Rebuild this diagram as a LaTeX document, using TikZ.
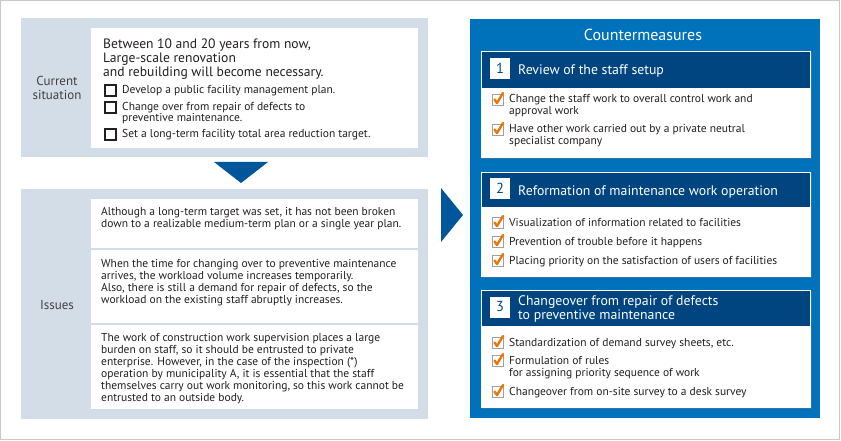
\documentclass[tikz,border=0pt]{standalone}
\usepackage{fontspec}
\setmainfont{PT Sans}
\usetikzlibrary{positioning,calc,shadows}
\definecolor{panelgray}{RGB}{211,221,232}
\definecolor{cmblue}{RGB}{0,114,188}
\definecolor{hdblue}{RGB}{0,69,127}
\definecolor{arrblue}{RGB}{0,86,154}
\definecolor{chkorange}{RGB}{238,118,0}
\definecolor{framegray}{RGB}{200,200,200}
\definecolor{txt}{RGB}{35,31,32}

\tikzset{
  panel/.style={fill=panelgray,anchor=north west,inner sep=0},
  wbox/.style={fill=white,anchor=north west,inner sep=0},
  lbl/.style={align=center,text=txt!85,font=\fontsize{13}{14}\selectfont},
  % multi-line nodes sit on the baseline of their LAST line
  body/.style={anchor=base west,inner sep=0,align=left,text=txt,
               font=\fontsize{11.5}{12}\selectfont},
  lead/.style={body,font=\fontsize{13.6}{14}\selectfont},
  sqbox/.style={draw=txt,line width=1.1pt,minimum size=11pt,inner sep=0},
  secbox/.style={fill=white,anchor=north west,inner sep=0,
                 drop shadow={shadow xshift=1pt,shadow yshift=-1pt,opacity=.35}},
  hdr/.style={fill=hdblue,anchor=north west,inner sep=0},
  hdtxt/.style={anchor=base west,inner sep=0,align=left,text=white,
                font=\fontsize{13.8}{14}\selectfont},
  numbox/.style={fill=white,text=hdblue,minimum width=20pt,minimum height=21pt,
                 inner sep=0,font=\fontsize{14.5}{14}\selectfont},
  tick/.pic={
    \draw[gray!75,fill=white,line width=.8pt] (-5.5,-5.5) rectangle (5.5,5.5);
    \draw[chkorange,line width=2.4pt,line cap=round,line join=round]
      (-3,0) -- (-0.5,3.5) -- (5.5,-6.5);
  }
}

\begin{document}
\begin{tikzpicture}[x=1pt,y=-1pt]
\useasboundingbox (0,0) rectangle (841,441);
\draw[framegray] (0.5,0.5) rectangle (839.5,439.5);

% ---------------- current situation ----------------
\node[panel,minimum width=407pt,minimum height=139pt] (cur) at (21,18) {};
\node[wbox,minimum width=327pt,minimum height=120pt] (curw) at (91,28) {};
\node[lbl] (curlbl) at (57,88) {Current\\situation};
\node[lead] (curlead) at (103,77)
  {Between 10 and 20 years from now,\\
   Large-scale renovation\\
   and rebuilding will become necessary.};
% \y = first baseline, \k = extra lines
\foreach \n/\y/\k/\t in {1/94/0/{Develop a public facility management plan.},
                         2/111/1/{Change over from repair of defects to\\preventive maintenance.},
                         3/138/0/{Set a long-term facility total area reduction target.}}{
  \node[sqbox] (sq\n) at (110.5,\y-3.5) {};
  \node[body,font=\fontsize{11.5}{11}\selectfont] (cs\n) at (122,\y+11*\k) {\t};
}

% arrow down
\fill[arrblue] (214,162) -- (268,162) -- (241,183) -- cycle;

% ---------------- issues ----------------
\node[panel,minimum width=407pt,minimum height=230pt] (iss) at (21,189) {};
\node[lbl] (isslbl) at (57,305) {Issues};
\node[wbox,minimum width=327pt,minimum height=49pt] (iss1) at (91,199) {};
\node[wbox,minimum width=327pt,minimum height=73pt] (iss2) at (91,250) {};
\node[wbox,minimum width=327pt,minimum height=84pt] (iss3) at (91,325) {};
\node[body] (isst1) at (101,227)
  {Although a long-term target was set, it has not been broken\\
   down to a realizable medium-term plan or a single year plan.};
\node[body] (isst2) at (101,303)
  {When the time for changing over to preventive maintenance\\
   arrives, the workload volume increases temporarily.\\
   Also, there is still a demand for repair of defects, so the\\
   workload on the existing staff abruptly increases.};
\node[body] (isst3) at (101,401)
  {The work of construction work supervision places a large\\
   burden on staff, so it should be entrusted to private\\
   enterprise. However, in the case of the inspection (*)\\
   operation by municipality A, it is essential that the staff\\
   themselves carry out work monitoring, so this work cannot be\\
   entrusted to an outside body.};

% arrow right
\fill[arrblue] (441,188) -- (463,215) -- (441,242) -- cycle;

% ---------------- countermeasures ----------------
\node[fill=cmblue,anchor=north west,inner sep=0,minimum width=350pt,
      minimum height=399pt] (cm) at (470,19) {};
\node[text=white,font=\fontsize{16}{16}\selectfont,anchor=base] (cmt) at (643,41)
  {Countermeasures};

% section 1
\node[secbox,minimum width=330pt,minimum height=107pt] (s1) at (481,51) {};
\node[hdr,minimum width=328pt,minimum height=36pt] (h1) at (482,52) {};
\node[numbox] (n1) at (500,68.5) {1};
\node[hdtxt] (ht1) at (518,75) {Review of the staff setup};
\foreach \n/\y/\k/\t in {1/103/1/{Change the staff work to overall control work and\\approval work},
                         2/133/1/{Have other work carried out by a private neutral\\specialist company}}{
  \pic at (497.5,\y-3.5) {tick};
  \node[body] (a\n) at (509,\y+12*\k) {\t};
}

% section 2
\node[secbox,minimum width=330pt,minimum height=105pt] (s2) at (481,172) {};
\node[hdr,minimum width=328pt,minimum height=34pt] (h2) at (482,173) {};
\node[numbox] (n2) at (500,188.5) {2};
\node[hdtxt] (ht2) at (518,195) {Reformation of maintenance work operation};
\foreach \n/\y/\t in {1/226/{Visualization of information related to facilities},
                      2/245/{Prevention of trouble before it happens},
                      3/264/{Placing priority on the satisfaction of users of facilities}}{
  \pic at (497.5,\y-3.5) {tick};
  \node[body] (b\n) at (509,\y) {\t};
}

% section 3
\node[secbox,minimum width=330pt,minimum height=118pt] (s3) at (481,290) {};
\node[hdr,minimum width=328pt,minimum height=35pt] (h3) at (482,291) {};
\node[numbox] (n3) at (500,307) {3};
\node[hdtxt] (ht3) at (518,319)
  {Changeover from repair of defects\\to preventive maintenance};
\foreach \n/\y/\k/\t in {1/346/0/{Standardization of demand survey sheets, etc.},
                         2/364/1/{Formulation of rules\\for assigning priority sequence of work},
                         3/395/0/{Changeover from on-site survey to a desk survey}}{
  \pic at (497.5,\y-3.5) {tick};
  \node[body] (c\n) at (509,\y+12*\k) {\t};
}

\end{tikzpicture}
\end{document}
